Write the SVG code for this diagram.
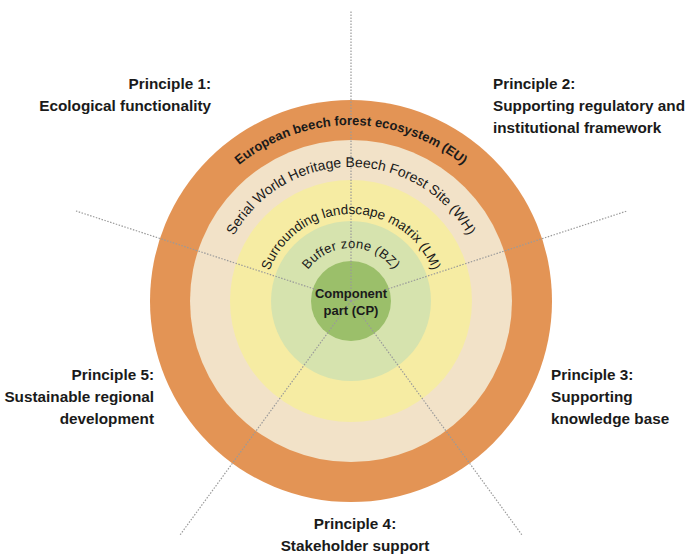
<svg xmlns="http://www.w3.org/2000/svg" xmlns:xlink="http://www.w3.org/1999/xlink" width="687" height="555" viewBox="0 0 687 555">
<style>
.lbl{font-family:"Liberation Sans",Arial,sans-serif;font-weight:bold;font-size:15.3px;fill:#1a1a1a}
.ring{font-family:"Liberation Sans",Arial,sans-serif;fill:#1a1a1a}
.dot{stroke:#9a9a9a;stroke-width:1.2;stroke-dasharray:1.5 1.5;fill:none}
</style>
<defs>
<path id="pEU" d="M351,477 A176,176 0 1 1 351,125 A176,176 0 1 1 351,477"/>
<path id="pWH" d="M351,435 A134,134 0 1 1 351,167 A134,134 0 1 1 351,435"/>
<path id="pLM" d="M351,388 A87,87 0 1 1 351,214 A87,87 0 1 1 351,388"/>
<path id="pBZ" d="M351,354 A53,53 0 1 1 351,248 A53,53 0 1 1 351,354"/>
</defs>
<rect width="687" height="555" fill="#ffffff"/>
<g id="ring-EU"><circle cx="351" cy="301" r="201" fill="#E39455"/></g>
<g id="ring-WH"><circle cx="351" cy="301" r="161" fill="#F2E2C8"/></g>
<g id="ring-LM"><circle cx="351" cy="301" r="121" fill="#F6ECA3"/></g>
<g id="ring-BZ"><circle cx="351" cy="301" r="80" fill="#D6E3AE"/></g>
<g id="ring-CP"><circle cx="351" cy="301" r="40" fill="#9BBF6A"/></g>
<g id="connectors">
<line class="dot" x1="351" y1="301" x2="351" y2="10"/>
<line class="dot" x1="351" y1="301" x2="76" y2="211"/>
<line class="dot" x1="351" y1="301" x2="627" y2="211"/>
<line class="dot" x1="351" y1="301" x2="180" y2="535"/>
<line class="dot" x1="351" y1="301" x2="522" y2="535"/>
</g>
<g id="label-EU"><text class="ring" font-size="13" font-weight="bold"><textPath xlink:href="#pEU" href="#pEU" startOffset="50%" text-anchor="middle">European beech forest ecosystem (EU)</textPath></text></g>
<g id="label-WH"><text class="ring" font-size="14"><textPath xlink:href="#pWH" href="#pWH" startOffset="50%" text-anchor="middle">Serial World Heritage Beech Forest Site (WH)</textPath></text></g>
<g id="label-LM"><text class="ring" font-size="13.5"><textPath xlink:href="#pLM" href="#pLM" startOffset="50%" text-anchor="middle">Surrounding landscape matrix (LM)</textPath></text></g>
<g id="label-BZ"><text class="ring" font-size="13" letter-spacing="0.3"><textPath xlink:href="#pBZ" href="#pBZ" startOffset="50%" text-anchor="middle">Buffer zone (BZ)</textPath></text></g>
<g id="label-CP"><text class="ring" font-size="13" font-weight="bold" text-anchor="middle"><tspan x="351" y="298">Component</tspan><tspan x="351" y="315">part (CP)</tspan></text></g>
<g id="principle-1"><text class="lbl" text-anchor="end"><tspan x="211" y="89">Principle 1:</tspan><tspan x="211" y="111">Ecological functionality</tspan></text></g>
<g id="principle-2"><text class="lbl"><tspan x="493" y="89">Principle 2:</tspan><tspan x="493" y="111">Supporting regulatory and</tspan><tspan x="493" y="133">institutional framework</tspan></text></g>
<g id="principle-3"><text class="lbl"><tspan x="551" y="380">Principle 3:</tspan><tspan x="551" y="402">Supporting</tspan><tspan x="551" y="424">knowledge base</tspan></text></g>
<g id="principle-4"><text class="lbl" text-anchor="middle"><tspan x="355" y="529">Principle 4:</tspan><tspan x="355" y="551">Stakeholder support</tspan></text></g>
<g id="principle-5"><text class="lbl" text-anchor="end"><tspan x="154" y="380">Principle 5:</tspan><tspan x="154" y="402">Sustainable regional</tspan><tspan x="154" y="424">development</tspan></text></g>
</svg>
